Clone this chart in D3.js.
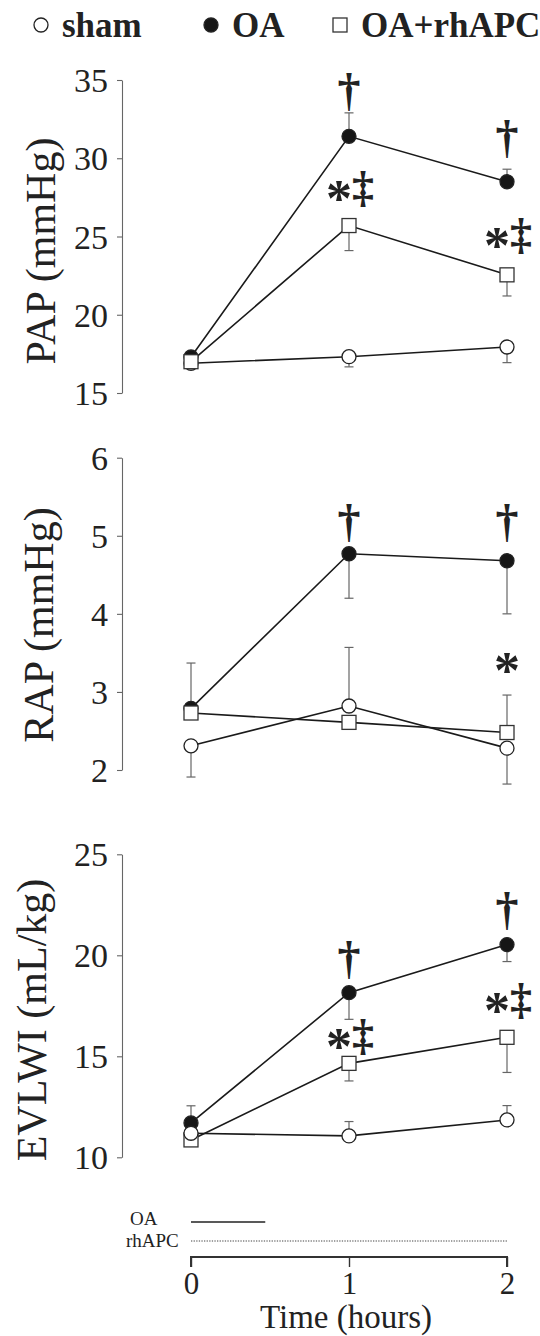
<!DOCTYPE html>
<html>
<head>
<meta charset="utf-8">
<script src="https://cdn.jsdelivr.net/npm/d3@7"></script>
<style>
  body { margin: 0; background: #fff; }
  text { font-family: "Liberation Serif", "Times New Roman", serif; fill: #222; }
</style>
</head>
<body>
<div id="chart"></div>
<script>
// time points (hours)
var times = [0, 1, 2];

// error values: sign tells which way the bar was drawn (+ up, - down)
var papSham = [16.9, 17.32, 17.94];
var papShamErr = [0, -0.65, -1.0];
var papOA = [17.3, 31.4, 28.5];
var papOAErr = [0, 1.5, 0.8];
var papAPC = [17.0, 25.7, 22.55];
var papAPCErr = [0, -1.6, -1.35];

var rapSham = [2.31, 2.82, 2.28];
var rapShamErr = [-0.40, 0.75, -0.46];
var rapOA = [2.79, 4.77, 4.68];
var rapOAErr = [0.58, -0.57, -0.68];
var rapAPC = [2.73, 2.61, 2.48];
var rapAPCErr = [0, -0.07, 0.48];

var evSham = [11.19, 11.06, 11.85];
var evShamErr = [0, 0.71, 0.71];
var evOA = [11.7, 18.15, 20.53];
var evOAErr = [0.85, -1.32, -0.84];
var evAPC = [10.86, 14.65, 15.94];
var evAPCErr = [0, -0.87, -1.74];

// y tick labels
var papTicks = [15, 20, 25, 30, 35];
var rapTicks = [2, 3, 4, 5, 6];
var evTicks = [10, 15, 20, 25];

// significance marks: time, value at glyph centre, symbol
var papMarks = [[1, 34.17, "†"], [2, 31.17, "†"], [1, 27.97, "*‡"], [2, 24.97, "*‡"]];
var rapMarks = [[1, 5.16, "†"], [2, 5.16, "†"], [2, 3.38, "*"]];
var evMarks = [[1, 19.72, "†"], [2, 22.14, "†"], [1, 15.91, "*‡"], [2, 17.69, "*‡"]];

var legendLabels = ["sham", "OA", "OA+rhAPC"];
var oaInfusion = [0, 0.47];
var apcInfusion = [0, 2];

var width = 540, height = 1336;
var axisX = 122;

var svg = d3.select("#chart").append("svg")
  .attr("width", width).attr("height", height);

var x = d3.scaleLinear().domain([0, 2]).range([191, 507]);

function series(name, vals, errs) {
  return { name: name, pts: times.map(function(t, i) { return { t: t, v: vals[i], e: errs[i] }; }) };
}

var panels = [
  { label: "PAP (mmHg)", domain: [15, 35], range: [393, 80], ticks: papTicks, labX: 55, labY: 251,
    marks: papMarks, order: ["OA", "sham", "rhAPC"],
    data: [series("sham", papSham, papShamErr), series("OA", papOA, papOAErr), series("rhAPC", papAPC, papAPCErr)] },
  { label: "RAP (mmHg)", domain: [2, 6], range: [770, 457.7], ticks: rapTicks, labX: 53, labY: 625,
    marks: rapMarks, order: ["OA", "rhAPC", "sham"],
    data: [series("sham", rapSham, rapShamErr), series("OA", rapOA, rapOAErr), series("rhAPC", rapAPC, rapAPCErr)] },
  { label: "EVLWI (mL/kg)", domain: [10, 25], range: [1157.3, 854.3], ticks: evTicks, labX: 46, labY: 1020,
    marks: evMarks, order: ["OA", "rhAPC", "sham"],
    data: [series("sham", evSham, evShamErr), series("OA", evOA, evOAErr), series("rhAPC", evAPC, evAPCErr)] }
];

function drawMarker(g, name, cx, cy) {
  if (name === "rhAPC") {
    g.append("rect").attr("x", cx - 7).attr("y", cy - 7).attr("width", 14).attr("height", 14)
      .attr("fill", "#fff").attr("stroke", "#333").attr("stroke-width", 1.3);
  } else {
    g.append("circle").attr("cx", cx).attr("cy", cy).attr("r", 7)
      .attr("fill", name === "OA" ? "#161616" : "#fff").attr("stroke", "#222").attr("stroke-width", 1.3);
  }
}

panels.forEach(function(p) {
  var y = d3.scaleLinear().domain(p.domain).range(p.range);
  var g = svg.append("g");

  // y axis
  var ax = g.append("g").attr("transform", "translate(" + axisX + ",0)")
    .call(d3.axisLeft(y).tickValues(p.ticks).tickFormat(d3.format("d"))
      .tickSize(5).tickSizeOuter(0).tickPadding(9));
  ax.select(".domain").attr("stroke", "#666").attr("stroke-width", 1.1);
  ax.selectAll(".tick line").attr("stroke", "#666").attr("stroke-width", 1.1);
  ax.selectAll(".tick text").attr("font-size", 34).attr("font-family", "Liberation Serif, serif")
    .attr("fill", "#222").attr("dy", "0.34em");

  g.append("text")
    .attr("transform", "translate(" + p.labX + "," + p.labY + ") rotate(-90)")
    .attr("text-anchor", "middle").attr("font-size", 42).text(p.label);

  var byName = {};
  p.data.forEach(function(s) { byName[s.name] = s; });

  // error bars
  p.data.forEach(function(s) {
    s.pts.forEach(function(d) {
      if (!d.e) return;
      var y0 = y(d.v), y1 = y(d.v + d.e), cx = x(d.t);
      g.append("line").attr("x1", cx).attr("x2", cx).attr("y1", y0).attr("y2", y1)
        .attr("stroke", "#666").attr("stroke-width", 1.2);
      g.append("line").attr("x1", cx - 4.5).attr("x2", cx + 4.5).attr("y1", y1).attr("y2", y1)
        .attr("stroke", "#666").attr("stroke-width", 1.2);
    });
  });

  var line = d3.line().x(function(d) { return x(d.t); }).y(function(d) { return y(d.v); });
  p.data.forEach(function(s) {
    g.append("path").datum(s.pts).attr("d", line)
      .attr("fill", "none").attr("stroke", "#1a1a1a").attr("stroke-width", 1.6);
  });

  p.order.forEach(function(name) {
    byName[name].pts.forEach(function(d) { drawMarker(g, name, x(d.t), y(d.v)); });
  });

  // significance symbols
  p.marks.forEach(function(m) {
    var cx = x(m[0]), cy = y(m[1]);
    if (m[2] === "†") {
      g.append("text").attr("x", cx).attr("y", cy + 0.27 * 46).attr("text-anchor", "middle")
        .attr("font-size", 46).attr("font-weight", "bold").text("†");
    } else if (m[2] === "*") {
      g.append("text").attr("x", cx).attr("y", cy + 0.5 * 52).attr("text-anchor", "middle")
        .attr("font-size", 52).attr("font-weight", "bold").text("*");
    } else {
      var t = g.append("text").attr("x", cx + 1).attr("y", cy + 0.27 * 44)
        .attr("text-anchor", "middle").attr("font-weight", "bold");
      t.append("tspan").attr("font-size", 52).attr("dy", 0.5 * 52 - 0.27 * 44).text("*");
      t.append("tspan").attr("font-size", 44).attr("dy", -(0.5 * 52 - 0.27 * 44)).text("‡");
    }
  });
});

// legend
var legendX = [41, 211, 340];
legendLabels.forEach(function(lab, i) {
  var name = i === 0 ? "sham" : (i === 1 ? "OA" : "rhAPC");
  var lg = svg.append("g");
  drawMarker(lg, name, legendX[i], 25);
  lg.append("text").attr("x", legendX[i] + 21).attr("y", 37)
    .attr("font-size", 35).attr("font-weight", "bold").text(lab);
});

// infusion bars
var bottom = svg.append("g");
bottom.append("line").attr("x1", x(oaInfusion[0])).attr("x2", x(oaInfusion[1]))
  .attr("y1", 1222).attr("y2", 1222).attr("stroke", "#222").attr("stroke-width", 1.6);
bottom.append("line").attr("x1", x(apcInfusion[0])).attr("x2", x(apcInfusion[1]))
  .attr("y1", 1241).attr("y2", 1241).attr("stroke", "#444").attr("stroke-width", 1.2)
  .attr("stroke-dasharray", "1.3,1.3");
bottom.append("text").attr("x", 130).attr("y", 1225).attr("font-size", 19).text("OA");
bottom.append("text").attr("x", 126).attr("y", 1247).attr("font-size", 19).text("rhAPC");

// time axis
var xa = svg.append("g").attr("transform", "translate(0,1257)")
  .call(d3.axisBottom(x).tickValues(times).tickFormat(d3.format("d")).tickSize(10).tickSizeOuter(10));
xa.select(".domain").attr("stroke", "#333").attr("stroke-width", 2).attr("d", "M" + x(0) + ",10V0H" + x(2) + "V10");
xa.selectAll(".tick line").attr("stroke", "#333").attr("stroke-width", 1.4);
xa.selectAll(".tick text").attr("font-size", 31).attr("font-family", "Liberation Serif, serif")
  .attr("fill", "#222").attr("y", 37).attr("dy", 0);

svg.append("text").attr("x", 346).attr("y", 1328).attr("text-anchor", "middle")
  .attr("font-size", 33).text("Time (hours)");
</script>
</body>
</html>
